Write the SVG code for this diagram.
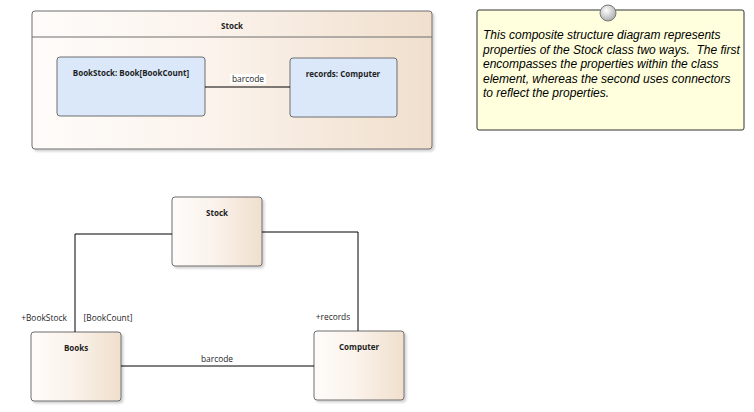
<svg xmlns="http://www.w3.org/2000/svg" width="754" height="412" viewBox="0 0 754 412">
<style>
.cls{stroke:#6e6e6e;stroke-width:1;fill:url(#g)}
.part{fill:#dae8fa;stroke:#6e6e6e;stroke-width:1}
.t{font-family:"Open Sans","Liberation Sans",sans-serif;font-size:8.4px;fill:#1e1e1e}
.b{font-weight:bold;font-size:8px}
.c{stroke:#000;stroke-width:1;fill:none}
.note{font-family:"Liberation Sans",Arial,sans-serif;font-size:12px;font-style:italic;fill:#000;white-space:pre}
</style>
<defs>
<linearGradient id="g" x1="0" y1="0" x2="1" y2="0">
<stop offset="0" stop-color="#fefcfa"/>
<stop offset="0.45" stop-color="#fbf3ec"/>
<stop offset="1" stop-color="#f0dfcd"/>
</linearGradient>
<radialGradient id="rg" cx="0.4" cy="0.35" r="0.7">
<stop offset="0" stop-color="#ffffff"/>
<stop offset="1" stop-color="#a8a8a8"/>
</radialGradient>
<filter id="sh" x="-10%" y="-10%" width="130%" height="130%">
<feDropShadow dx="2" dy="2" stdDeviation="1" flood-color="#000" flood-opacity="0.18"/>
</filter>
</defs>

<g id="stock-frame">
<rect class="cls" x="32" y="11" width="400" height="138" rx="3" filter="url(#sh)"/>
<line x1="32" y1="37" x2="432" y2="37" stroke="#6e6e6e"/>
<text class="t b" x="232" y="29" text-anchor="middle">Stock</text>
</g>
<g id="bookstock-part">
<rect class="part" x="57" y="57" width="148" height="59" rx="3"/>
<text class="t b" x="131" y="76" text-anchor="middle">BookStock: Book[BookCount]</text>
</g>
<g id="records-part">
<rect class="part" x="290" y="58" width="107" height="59" rx="3"/>
<text class="t b" x="343" y="77" text-anchor="middle">records: Computer</text>
</g>

<g id="note">
<rect x="477" y="10" width="267" height="120" rx="2" fill="#ffffdd" stroke="#333" stroke-width="1"/>
<circle cx="608" cy="13" r="8" fill="url(#rg)" stroke="#777"/>
<text class="note" x="483" y="39">This composite structure diagram represents</text>
<text class="note" x="483" y="53.5" xml:space="preserve">properties of the Stock class two ways.  The first</text>
<text class="note" x="483" y="68">encompasses the properties within the class</text>
<text class="note" x="483" y="82.5">element, whereas the second uses connectors</text>
<text class="note" x="483" y="97">to reflect the properties.</text>
</g>

<g id="stock">
<rect class="cls" x="172" y="197" width="90" height="69" rx="3" filter="url(#sh)"/>
<text class="t b" x="217" y="216" text-anchor="middle">Stock</text>
</g>
<g id="books">
<rect class="cls" x="31" y="332" width="90" height="69" rx="3" filter="url(#sh)"/>
<text class="t b" x="76" y="351" text-anchor="middle">Books</text>
</g>
<g id="computer">
<rect class="cls" x="314" y="331" width="90" height="69" rx="3" filter="url(#sh)"/>
<text class="t b" x="359" y="350" text-anchor="middle">Computer</text>
</g>

<g id="connectors">
<line class="c" x1="205" y1="87" x2="290" y2="87"/>
<rect x="230" y="74" width="36" height="10" fill="#ffffff"/>
<text class="t" x="248" y="82" text-anchor="middle">barcode</text>
<polyline class="c" points="172,234 75,234 75,332"/>
<polyline class="c" points="262,232 358,232 358,331"/>
<line class="c" x1="121" y1="366" x2="314" y2="366"/>
<text class="t" x="217" y="362" text-anchor="middle">barcode</text>
<text class="t" x="44" y="321" text-anchor="middle">+BookStock</text>
<text class="t" x="108" y="321" text-anchor="middle">[BookCount]</text>
<text class="t" x="333" y="320" text-anchor="middle">+records</text>
</g>
</svg>
